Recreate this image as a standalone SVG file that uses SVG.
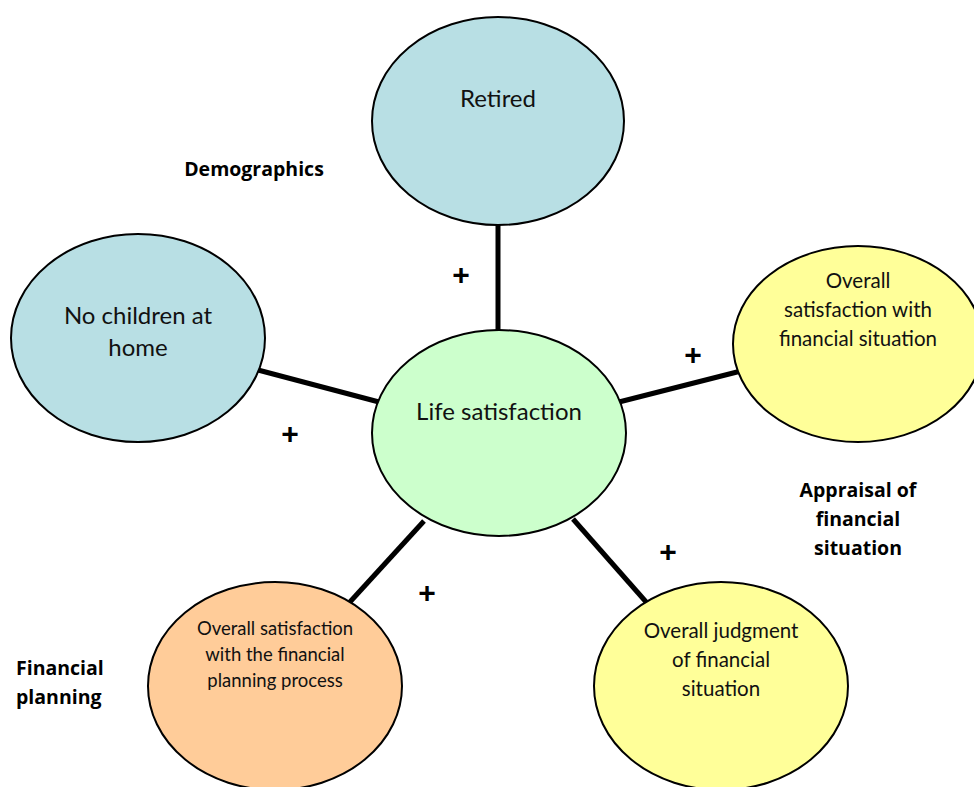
<svg xmlns="http://www.w3.org/2000/svg" width="974" height="787" viewBox="0 0 974 787">
<style>
.n{stroke:#000;stroke-width:2}
.t{font-family:Lato,"Liberation Sans",sans-serif;font-size:24px;fill:#111;text-anchor:middle}
.s{font-size:20.5px}
.f{font-size:18.5px}
.b{font-family:"Open Sans","Liberation Sans",sans-serif;font-weight:bold;font-size:19.5px;fill:#000}
.p{font-family:"Liberation Sans",sans-serif;font-weight:bold;font-size:30px;fill:#000;text-anchor:middle}
.c line{stroke:#000;stroke-width:5}
</style>
<rect width="974" height="787" fill="#fff"/>
<g class="c" id="connectors">
<line x1="498" y1="225" x2="498" y2="331"/>
<line x1="258" y1="370" x2="379" y2="402"/>
<line x1="619" y1="402" x2="741" y2="371"/>
<line x1="424" y1="521" x2="349" y2="603"/>
<line x1="573" y1="519" x2="647" y2="603"/>
</g>
<g id="retired"><ellipse class="n" cx="498" cy="121" rx="126" ry="104" fill="#B8DFE4"/><text class="t" x="498" y="107">Retired</text></g>
<g id="nochildren"><ellipse class="n" cx="138" cy="338" rx="127" ry="104" fill="#B8DFE4"/><text class="t" x="138" y="324">No children at</text><text class="t" x="138" y="356">home</text></g>
<g id="oversat"><ellipse class="n" cx="858" cy="344" rx="125" ry="98" fill="#FFFF99"/><text class="t s" x="858" y="288">Overall</text><text class="t s" x="858" y="317">satisfaction with</text><text class="t s" x="858" y="346">financial situation</text></g>
<g id="life"><ellipse class="n" cx="499" cy="433" rx="127" ry="103" fill="#CCFFCC"/><text class="t" x="499" y="420">Life satisfaction</text></g>
<g id="planning"><ellipse class="n" cx="275" cy="686" rx="127" ry="104" fill="#FFCC99"/><text class="t f" x="275" y="635">Overall satisfaction</text><text class="t f" x="275" y="661">with the financial</text><text class="t f" x="275" y="687">planning process</text></g>
<g id="judgment"><ellipse class="n" cx="721" cy="686" rx="127" ry="104" fill="#FFFF99"/><text class="t s" x="721" y="638">Overall judgment</text><text class="t s" x="721" y="667">of financial</text><text class="t s" x="721" y="696">situation</text></g>
<g id="labels">
<text class="b" x="254" y="176" text-anchor="middle">Demographics</text>
<text class="b" x="858" y="497" text-anchor="middle">Appraisal of</text>
<text class="b" x="858" y="526" text-anchor="middle">financial</text>
<text class="b" x="858" y="555" text-anchor="middle">situation</text>
<text class="b" x="16" y="675">Financial</text>
<text class="b" x="16" y="704">planning</text>
<text class="p" x="461" y="285">+</text>
<text class="p" x="290" y="444">+</text>
<text class="p" x="693" y="365">+</text>
<text class="p" x="427" y="603">+</text>
<text class="p" x="668" y="562">+</text>
</g>
</svg>
